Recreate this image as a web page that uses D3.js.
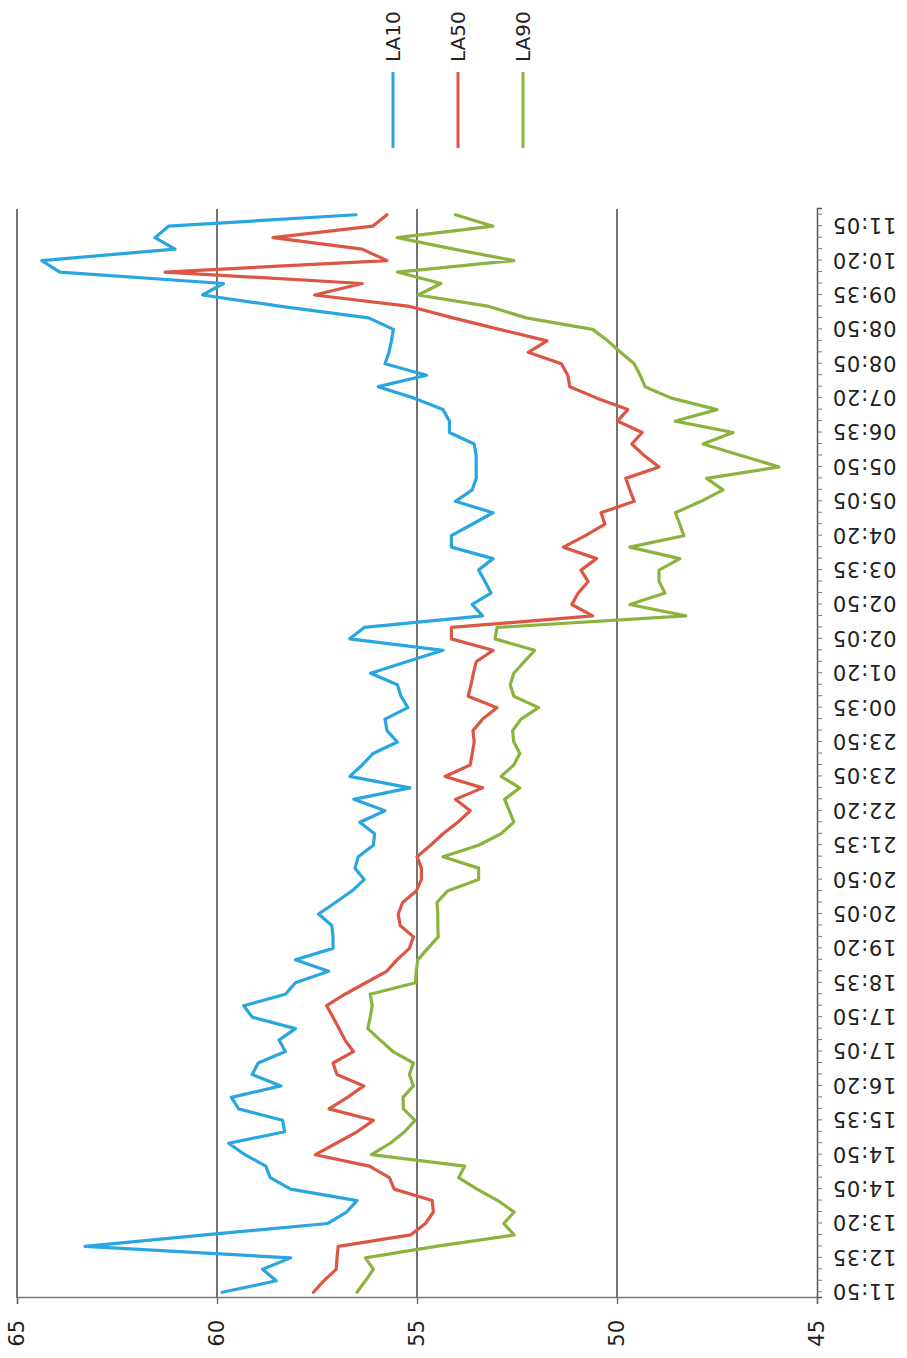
<!DOCTYPE html>
<html>
<head>
<meta charset="utf-8">
<script src="https://cdn.jsdelivr.net/npm/d3@7"></script>
<style>
  html, body { margin: 0; padding: 0; background: #fff; }
  svg { display: block; }
  text { font-family: "DejaVu Sans", sans-serif; fill: #222; }
</style>
</head>
<body>
<script>
// ---------------- DATA ----------------
const times = [
  "11:50","12:05","12:20","12:35","12:50","13:05","13:20","13:35","13:50","14:05",
  "14:20","14:35","14:50","15:05","15:20","15:35","15:50","16:05","16:20","16:35",
  "16:50","17:05","17:20","17:35","17:50","18:05","18:20","18:35","18:50","19:05",
  "19:20","19:35","19:50","20:05","20:20","20:35","20:50","21:05","21:20","21:35",
  "21:50","22:05","22:20","22:35","22:50","23:05","23:20","23:35","23:50","00:05",
  "00:20","00:35","00:50","01:05","01:20","01:35","01:50","02:05","02:20","02:35",
  "02:50","03:05","03:20","03:35","03:50","04:05","04:20","04:35","04:50","05:05",
  "05:20","05:35","05:50","06:05","06:20","06:35","06:50","07:05","07:20","07:35",
  "07:50","08:05","08:20","08:35","08:50","09:05","09:20","09:35","09:50","10:05",
  "10:20","10:35","10:50","11:05","11:20"
];
const tickLabels = [
  "11:50","12:35","13:20","14:05","14:50","15:35","16:20","17:05","17:50","18:35",
  "19:20","20:05","20:50","21:35","22:20","23:05","23:50","00:35","01:20","02:05",
  "02:50","03:35","04:20","05:05","05:50","06:35","07:20","08:05","08:50","09:35",
  "10:20","11:05"
];
const seriesNames = ["LA10", "LA50", "LA90"];
const LA10 = [
  59.87,58.52,58.86,58.16,63.30,60.30,57.23,56.76,56.50,58.16,
  58.67,58.78,59.30,59.71,58.31,58.36,59.46,59.64,58.40,59.12,
  58.97,58.29,58.45,58.04,59.12,59.33,58.29,58.04,57.21,58.04,
  57.10,57.10,57.13,57.46,57.04,56.63,56.32,56.55,56.47,56.09,
  56.06,56.43,55.80,56.58,55.18,56.68,56.37,56.10,55.49,55.75,
  55.80,55.23,55.40,55.49,56.16,55.26,54.35,56.68,56.32,53.36,
  53.62,53.15,53.30,53.46,53.10,54.14,54.14,53.62,53.10,54.04,
  53.62,53.52,53.52,53.52,53.57,54.19,54.19,54.35,55.07,55.97,
  54.76,55.80,55.70,55.64,55.59,56.21,58.40,60.36,59.84,63.93,
  64.38,61.05,61.55,61.21,56.52
];
const LA50 = [
  57.59,57.33,57.02,57.00,56.97,55.16,54.79,54.59,54.62,55.57,
  55.69,56.19,57.54,57.02,56.50,56.09,57.20,56.74,56.33,57.00,
  57.10,56.59,56.80,56.95,57.10,57.26,56.80,56.28,55.76,55.50,
  55.19,55.09,55.42,55.47,55.36,55.02,54.89,54.89,55.00,54.66,
  54.35,53.98,53.67,54.04,53.36,54.30,53.67,53.62,53.57,53.60,
  53.36,53.00,53.72,53.65,53.59,53.52,53.10,54.14,54.14,50.61,
  51.13,50.97,50.72,50.90,50.51,51.34,50.79,50.30,50.40,49.57,
  49.68,49.78,48.95,49.32,49.63,49.37,49.99,49.73,50.50,51.18,
  51.23,51.39,52.22,51.75,52.94,54.10,55.18,57.56,56.37,61.30,
  55.75,56.37,58.60,56.11,55.75
];
const LA90 = [
  56.50,56.29,56.09,56.29,54.53,52.57,52.83,52.57,52.98,53.50,
  53.96,53.81,56.14,55.67,55.31,55.05,55.34,55.35,55.09,55.19,
  55.09,55.60,55.92,56.23,56.17,56.12,56.17,55.04,55.02,54.98,
  54.73,54.47,54.48,54.48,54.50,54.24,53.46,53.46,54.35,53.46,
  52.90,52.58,52.69,52.81,52.43,52.90,52.58,52.43,52.58,52.61,
  52.40,51.96,52.58,52.67,52.58,52.32,52.06,53.05,53.00,48.28,
  49.68,48.80,48.95,48.95,48.43,49.68,48.33,48.43,48.54,47.90,
  47.35,47.76,45.95,46.90,47.85,47.10,48.54,47.50,48.64,49.30,
  49.42,49.57,49.91,50.23,50.61,52.27,53.20,54.97,54.40,55.49,
  52.58,54.08,55.49,53.10,54.04
];
const valueTicks = [45, 50, 55, 60, 65];
const colors = ["#29a6e0", "#dc5644", "#8ab43e"];

// ---------------- CHART ----------------
const W = 907, H = 1358;
const svg = d3.select("body").append("svg").attr("width", W).attr("height", H);
svg.append("rect").attr("width", W).attr("height", H).attr("fill", "#fff");

// The chart is drawn in its own (landscape) frame and turned a quarter turn counter-clockwise.
const g = svg.append("g").attr("transform", `translate(0,${H}) rotate(-90)`);

const x = d3.scalePoint().domain(d3.range(times.length)).range([60, 1149]).padding(0.5);
const y = d3.scaleLinear().domain([45, 65]).range([817, 17]);

// gridlines
g.append("g").selectAll("line").data(valueTicks.filter(v => v > 45)).join("line")
  .attr("x1", 60).attr("x2", 1149)
  .attr("y1", d => y(d)).attr("y2", d => y(d))
  .attr("stroke", "#2a2a2a").attr("stroke-width", 1.3);

// value axis (left in the chart frame)
const yAxis = g.append("g").attr("transform", "translate(60,0)")
  .call(d3.axisLeft(y).tickValues(valueTicks).tickSize(6).tickPadding(16).tickFormat(d3.format("d")));
yAxis.select(".domain").attr("stroke", "#777").attr("stroke-width", 1.5);
yAxis.selectAll(".tick line").attr("stroke", "#666").attr("stroke-width", 1.3);
yAxis.selectAll("text").style("font-size", "21px").style("font-family", "DejaVu Sans").attr("fill", "#222");

// category axis (bottom in the chart frame)
const xAxis = g.append("g").attr("transform", "translate(0,817)")
  .call(d3.axisBottom(x).tickSize(5)
    .tickFormat(i => (i % 3 === 0 && tickLabels.includes(times[i])) ? times[i] : ""));
xAxis.select(".domain").attr("stroke", "#555").attr("stroke-width", 1.5);
xAxis.selectAll(".tick line").attr("stroke", "#777").attr("stroke-width", 1);
xAxis.selectAll("text")
  .attr("transform", "rotate(-90)")
  .attr("x", -15).attr("y", 0).attr("dy", "0.36em")
  .style("text-anchor", "end")
  .style("font-size", "21px").style("font-family", "DejaVu Sans")
  .style("letter-spacing", "0.8px")
  .attr("fill", "#222");

// lines
const series = [LA10, LA50, LA90];
const line = d3.line().x((d, i) => x(i)).y(d => y(d));
g.append("g").selectAll("path").data(series).join("path")
  .attr("d", d => line(d))
  .attr("fill", "none")
  .attr("stroke", (d, i) => colors[i])
  .attr("stroke-width", 3.2)
  .attr("stroke-linejoin", "round")
  .attr("stroke-linecap", "round");

// legend
const leg = g.append("g");
seriesNames.forEach((name, k) => {
  const v = 393 + 65 * k;
  leg.append("line").attr("x1", 1210).attr("x2", 1286).attr("y1", v).attr("y2", v)
    .attr("stroke", colors[k]).attr("stroke-width", 3);
  leg.append("text").attr("x", 1296).attr("y", v).attr("dy", "0.36em")
    .style("font-size", "20px").style("font-family", "DejaVu Sans").text(name);
});
</script>
</body>
</html>
